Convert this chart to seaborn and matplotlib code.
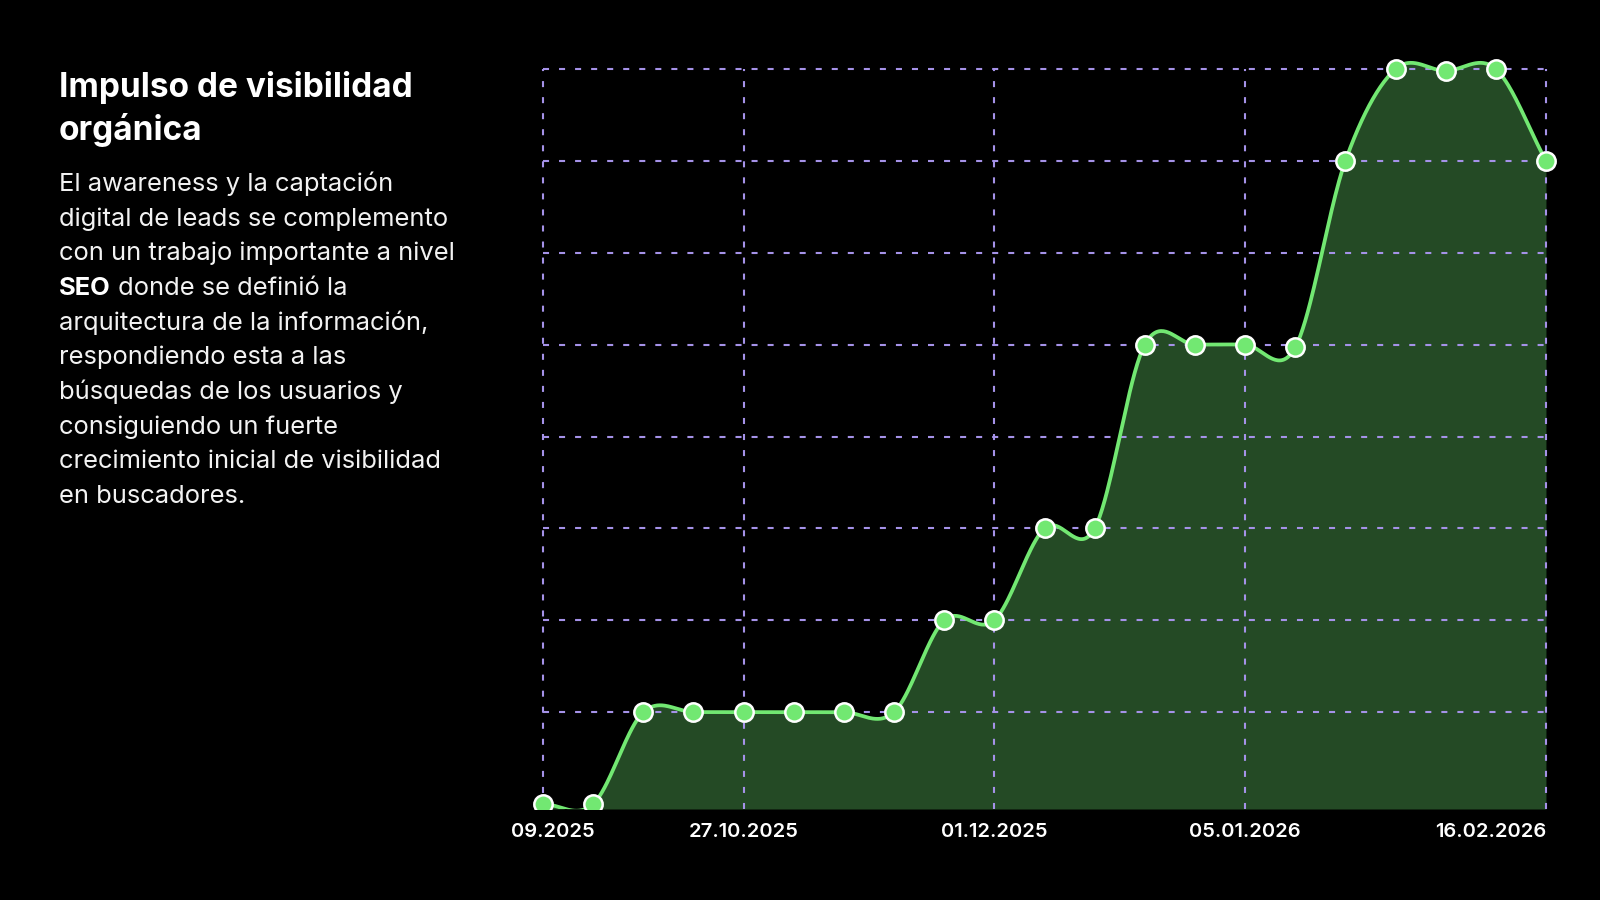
import numpy as np
import pandas as pd
import matplotlib
matplotlib.use("Agg")
import matplotlib.pyplot as plt
import matplotlib.transforms as mtransforms
import seaborn as sns

# weekly visibility index (grid units)
weeks = pd.date_range("2025-09-29", periods=21, freq="7D")
visibility = [0, 0, 1, 1, 1, 1, 1, 1, 2, 2, 3, 3, 5, 5, 5, 4.97, 7, 8, 7.98, 8, 7]
tick_idx = [0, 4, 9, 14, 20]
tick_labels = ["09.2025", "27.10.2025", "01.12.2025", "05.01.2026", "16.02.2026"]
grid_levels = [1, 2, 3, 4, 5, 6, 7, 8]

title_lines = ["Impulso de visibilidad", "orgánica"]
body_lines = [
    "El awareness y la captación",
    "digital de leads se complemento",
    "con un trabajo importante a nivel",
    ("SEO", " donde se definió la"),
    "arquitectura de la información,",
    "respondiendo esta a las",
    "búsquedas de los usuarios y",
    "consiguiendo un fuerte",
    "crecimiento inicial de visibilidad",
    "en buscadores.",
]

LINE_GREEN = "#72e872"
FILL_GREEN = "#244a25"
GRID_PURPLE = "#a592e8"


def smooth(y, steps=40):
    # catmull-rom style cubic through the points
    y = np.asarray(y, float)
    n = len(y)
    m = np.empty(n)
    m[1:-1] = (y[2:] - y[:-2]) / 2
    m[0] = y[1] - y[0]
    m[-1] = y[-1] - y[-2]
    t = np.linspace(0, 1, steps, endpoint=False)
    h00 = 2 * t**3 - 3 * t**2 + 1
    h10 = t**3 - 2 * t**2 + t
    h01 = -2 * t**3 + 3 * t**2
    h11 = t**3 - t**2
    xs, ys = [], []
    for i in range(n - 1):
        xs.append(i + t)
        ys.append(h00 * y[i] + h10 * m[i] + h01 * y[i + 1] + h11 * m[i + 1])
    xs.append([n - 1])
    ys.append([y[-1]])
    return np.concatenate(xs), np.concatenate(ys)


sns.set_theme(style="dark", rc={"axes.facecolor": "black", "figure.facecolor": "black"})
plt.rcParams["font.family"] = ["Inter", "DejaVu Sans"]

fig = plt.figure(figsize=(16, 9), dpi=100, facecolor="black")
ax = fig.add_axes([0.33, 0.1011, 0.645, 0.8433])
ax.set_facecolor("black")

idx = np.arange(len(visibility))
xs, ys = smooth(visibility)
y_bottom = -0.055
dash = (0, (2.9, 4.8))

ax.fill_between(xs, ys, y_bottom, color=FILL_GREEN, lw=0, zorder=1)
ax.hlines(grid_levels, 0, idx[-1], colors=GRID_PURPLE, linestyles=dash, lw=1.5, zorder=2)
ax.vlines(tick_idx, y_bottom, max(grid_levels), colors=GRID_PURPLE, linestyles=dash, lw=1.5, zorder=2)
sns.lineplot(x=xs, y=ys, ax=ax, color=LINE_GREEN, lw=2.7, zorder=3, sort=False)
sns.scatterplot(x=idx, y=visibility, ax=ax, color=LINE_GREEN, s=175, edgecolor="white",
                linewidth=1.8, zorder=4)

ax.set_xlim(-0.3, 20.28)
ax.set_ylim(y_bottom, 8.207)
ax.set_yticks([])
ax.set_xticks(tick_idx)
ax.set_xticklabels(tick_labels, color="white", fontsize=14.5, fontweight="semibold")
ax.tick_params(axis="x", length=0, pad=10)
for s in ax.spines.values():
    s.set_visible(False)
ax.grid(False)

lbls = ax.get_xticklabels()
lbls[0].set_transform(lbls[0].get_transform() + mtransforms.ScaledTranslation(10 / 100, 0, fig.dpi_scale_trans))
lbls[-1].set_horizontalalignment("right")

# left text block
W, H = 1600, 900
left = 59 / W
for k, line in enumerate(title_lines):
    fig.text(left, 1 - (97 + 43 * k) / H, line, color="white", fontsize=24,
             fontweight="bold", va="baseline", ha="left")

renderer = fig.canvas.get_renderer()
for k, line in enumerate(body_lines):
    y = 1 - (191 + 34.67 * k) / H
    if isinstance(line, tuple):
        t = fig.text(left, y, line[0], color="white", fontsize=18.4, fontweight="bold",
                     va="baseline", ha="left")
        bb = t.get_window_extent(renderer)
        fig.text(bb.x1 / W, y, line[1], color="#f2f2f2", fontsize=18.4,
                 va="baseline", ha="left")
    else:
        fig.text(left, y, line, color="#f2f2f2", fontsize=18.4, va="baseline", ha="left")

fig.savefig("out.png", dpi=100, facecolor="black")
